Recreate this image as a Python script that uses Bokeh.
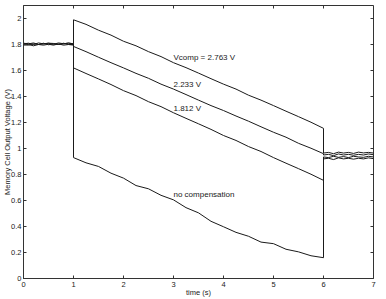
from bokeh.plotting import figure
from bokeh.models import Range1d, FixedTicker, Label
from bokeh.embed import file_html
from bokeh.resources import INLINE

# ---- data ----
t_pre = [0.0, 0.1, 0.2, 0.3, 0.4, 0.5, 0.6, 0.7, 0.8, 0.9, 1.0]
t_main = [1.0, 1.25, 1.5, 1.75, 2.0, 2.25, 2.5, 2.75, 3.0, 3.25, 3.5,
          3.75, 4.0, 4.25, 4.5, 4.75, 5.0, 5.25, 5.5, 5.75, 6.0]
t_post = [6.0, 6.1, 6.2, 6.3, 6.4, 6.5, 6.6, 6.7, 6.8, 6.9, 7.0]

v2763_pre = [1.805, 1.81, 1.80, 1.812, 1.805, 1.81, 1.802, 1.812, 1.806, 1.81, 1.805]
v2763_main = [1.99, 1.955, 1.91, 1.872, 1.825, 1.79, 1.745, 1.707, 1.66, 1.622, 1.58,
              1.537, 1.495, 1.457, 1.41, 1.372, 1.33, 1.287, 1.245, 1.202, 1.155]
v2763_post = [0.965, 0.97, 0.96, 0.972, 0.965, 0.97, 0.962, 0.972, 0.966, 0.97, 0.965]

v2233_pre = [1.80, 1.795, 1.805, 1.80, 1.81, 1.798, 1.805, 1.80, 1.81, 1.80, 1.80]
v2233_main = [1.785, 1.745, 1.702, 1.66, 1.62, 1.578, 1.54, 1.495, 1.457, 1.415, 1.372,
              1.33, 1.292, 1.25, 1.21, 1.167, 1.125, 1.087, 1.04, 1.002, 0.96]
v2233_post = [0.95, 0.955, 0.945, 0.958, 0.95, 0.955, 0.948, 0.955, 0.95, 0.958, 0.952]

v1812_pre = [1.81, 1.805, 1.812, 1.80, 1.805, 1.81, 1.808, 1.80, 1.805, 1.812, 1.805]
v1812_main = [1.62, 1.577, 1.535, 1.492, 1.445, 1.407, 1.36, 1.322, 1.275, 1.232, 1.19,
              1.147, 1.10, 1.062, 1.015, 0.977, 0.93, 0.887, 0.845, 0.802, 0.755]
v1812_post = [0.935, 0.93, 0.94, 0.932, 0.938, 0.93, 0.94, 0.935, 0.932, 0.94, 0.935]

vnone_pre = [1.795, 1.80, 1.79, 1.80, 1.795, 1.802, 1.795, 1.805, 1.795, 1.80, 1.795]
vnone_main = [0.93, 0.89, 0.862, 0.81, 0.772, 0.715, 0.69, 0.64, 0.605, 0.545, 0.505,
              0.44, 0.398, 0.355, 0.325, 0.28, 0.268, 0.225, 0.205, 0.175, 0.16]
vnone_post = [0.92, 0.925, 0.915, 0.928, 0.92, 0.925, 0.918, 0.925, 0.92, 0.928, 0.922]

x_ticks = [0, 1, 2, 3, 4, 5, 6, 7]
y_ticks = [0, 0.2, 0.4, 0.6, 0.8, 1, 1.2, 1.4, 1.6, 1.8, 2]
y_tick_labels = ["0", "0.2", "0.4", "0.6", "0.8", "1", "1.2", "1.4", "1.6", "1.8", "2"]

x_title = "time (s)"
y_title = "Memory Cell Output Voltage (V)"

labels = ["Vcomp = 2.763 V", "2.233 V", "1.812 V", "no compensation"]
label_x = [3.0, 3.0, 3.0, 3.0]
label_y = [1.70, 1.49, 1.31, 0.645]

FONT = "Liberation Sans"
INK = "#1a1a1a"
AXC = "#333333"
X0, X1, Y0, Y1 = 0, 7, 0, 2.1
W, H = 386, 299
BL, BR, BT, BB = 23, 13, 5, 21
FRAME_W, FRAME_H = W - BL - BR, H - BT - BB
TICK_PX = 3

p = figure(width=W, height=H, x_range=Range1d(X0, X1), y_range=Range1d(Y0, Y1),
           output_backend="svg", toolbar_location=None,
           min_border_left=BL, min_border_right=BR, min_border_top=BT, min_border_bottom=BB)
p.grid.visible = False
p.outline_line_color = AXC
p.background_fill_color = "white"
p.border_fill_color = "white"

series = [(v2763_pre, v2763_main, v2763_post), (v2233_pre, v2233_main, v2233_post),
          (v1812_pre, v1812_main, v1812_post), (vnone_pre, vnone_main, vnone_post)]
for pre, main, post in series:
    xs = t_pre + t_main + t_post
    ys = pre + main + post
    p.line(xs, ys, line_color=INK, line_width=1)

def style_axis(ax):
    ax.major_tick_in = TICK_PX
    ax.major_tick_out = 0
    ax.minor_tick_in = 0
    ax.minor_tick_out = 0
    ax.axis_line_color = AXC
    ax.major_tick_line_color = AXC
    ax.major_label_text_font = FONT
    ax.major_label_text_color = INK
    ax.major_label_text_font_size = "7.5px"
    ax.major_label_standoff = 2
    ax.axis_label_text_font = FONT
    ax.axis_label_text_font_size = "7.5px"
    ax.axis_label_text_font_style = "normal"
    ax.axis_label_text_color = INK

xa = p.xaxis[0]
xa.ticker = FixedTicker(ticks=x_ticks)
style_axis(xa)
xa.axis_label = x_title
xa.major_label_standoff = 3
xa.axis_label_standoff = -2

ya = p.yaxis[0]
ya.ticker = FixedTicker(ticks=y_ticks)
ya.major_label_overrides = {k: v for k, v in zip(y_ticks, y_tick_labels)}
style_axis(ya)
ya.axis_label = y_title
ya.axis_label_standoff = -4

# inward ticks on the top and right edges of the box
dy = TICK_PX * (Y1 - Y0) / FRAME_H
dx = TICK_PX * (X1 - X0) / FRAME_W
p.segment(x0=x_ticks, y0=[Y1] * len(x_ticks), x1=x_ticks, y1=[Y1 - dy] * len(x_ticks),
          line_color=AXC, line_width=1)
p.segment(x0=[X1] * len(y_ticks), y0=y_ticks, x1=[X1 - dx] * len(y_ticks), y1=y_ticks,
          line_color=AXC, line_width=1)

for txt, lx, ly in zip(labels, label_x, label_y):
    p.add_layout(Label(x=lx, y=ly, text=txt, text_font=FONT, text_font_size="8px",
                       text_color=INK, text_baseline="middle", text_align="left"))

open("out.html", "w").write(file_html(p, INLINE))
